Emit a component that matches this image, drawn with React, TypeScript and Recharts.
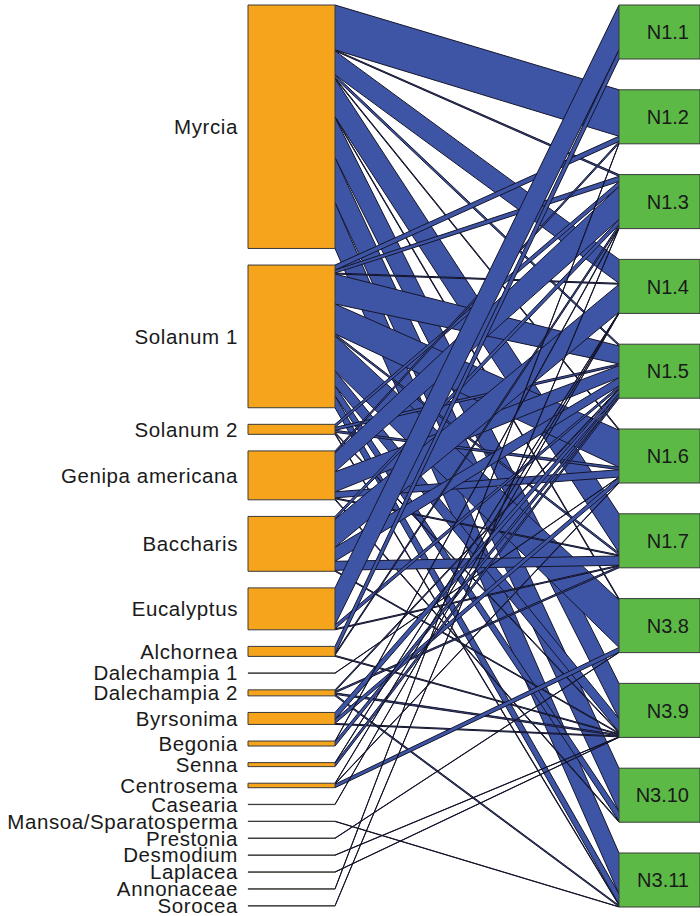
import React from 'react';
import { ComposedChart, Area, XAxis, YAxis, ReferenceArea } from 'recharts';

// Lower level (plants) and higher level (nests)
const plants = [
  'Myrcia', 'Solanum 1', 'Solanum 2', 'Genipa americana', 'Baccharis', 'Eucalyptus',
  'Alchornea', 'Dalechampia 1', 'Dalechampia 2', 'Byrsonima', 'Begonia', 'Senna',
  'Centrosema', 'Casearia', 'Mansoa/Sparatosperma', 'Prestonia', 'Desmodium',
  'Laplacea', 'Annonaceae', 'Sorocea',
];
const nests = ['N1.1', 'N1.2', 'N1.3', 'N1.4', 'N1.5', 'N1.6', 'N1.7', 'N3.8', 'N3.9', 'N3.10', 'N3.11'];

// Interactions: [plant, nest, amount]
const interactions: [string, string, number][] = [
  ['Myrcia', 'N1.2', 45], ['Myrcia', 'N1.3', 1], ['Myrcia', 'N1.4', 24], ['Myrcia', 'N1.5', 3],
  ['Myrcia', 'N1.6', 1], ['Myrcia', 'N1.7', 38], ['Myrcia', 'N3.8', 1], ['Myrcia', 'N3.9', 40],
  ['Myrcia', 'N3.10', 45], ['Myrcia', 'N3.11', 46],
  ['Solanum 1', 'N1.2', 5], ['Solanum 1', 'N1.3', 3], ['Solanum 1', 'N1.4', 1], ['Solanum 1', 'N1.5', 30],
  ['Solanum 1', 'N1.6', 30], ['Solanum 1', 'N1.7', 2], ['Solanum 1', 'N3.8', 35], ['Solanum 1', 'N3.9', 15],
  ['Solanum 1', 'N3.10', 10], ['Solanum 1', 'N3.11', 12],
  ['Solanum 2', 'N1.3', 3], ['Solanum 2', 'N1.5', 3], ['Solanum 2', 'N1.6', 2], ['Solanum 2', 'N3.9', 1],
  ['Solanum 2', 'N3.11', 1],
  ['Genipa americana', 'N1.2', 2], ['Genipa americana', 'N1.3', 19], ['Genipa americana', 'N1.5', 20],
  ['Genipa americana', 'N1.6', 6], ['Genipa americana', 'N1.7', 1], ['Genipa americana', 'N3.10', 1],
  ['Baccharis', 'N1.3', 3], ['Baccharis', 'N1.4', 28], ['Baccharis', 'N1.5', 14], ['Baccharis', 'N1.7', 9],
  ['Baccharis', 'N3.9', 1],
  ['Eucalyptus', 'N1.1', 37], ['Eucalyptus', 'N1.5', 4], ['Eucalyptus', 'N1.7', 1],
  ['Alchornea', 'N1.1', 7.5], ['Alchornea', 'N1.3', 1.5], ['Alchornea', 'N3.9', 1],
  ['Dalechampia 1', 'N1.6', 0.3],
  ['Dalechampia 2', 'N1.5', 1.5], ['Dalechampia 2', 'N1.7', 1.5], ['Dalechampia 2', 'N3.9', 1.5],
  ['Dalechampia 2', 'N3.11', 1.5],
  ['Byrsonima', 'N1.5', 7], ['Byrsonima', 'N1.6', 4], ['Byrsonima', 'N3.9', 1],
  ['Begonia', 'N1.3', 0.5], ['Begonia', 'N1.5', 4.5],
  ['Senna', 'N1.4', 0.5], ['Senna', 'N1.5', 3.5],
  ['Centrosema', 'N1.4', 0.5], ['Centrosema', 'N1.6', 0.5], ['Centrosema', 'N3.8', 3.5],
  ['Casearia', 'N1.4', 0.3],
  ['Mansoa/Sparatosperma', 'N3.11', 0.3],
  ['Prestonia', 'N3.8', 0.3],
  ['Desmodium', 'N3.9', 0.3],
  ['Laplacea', 'N3.9', 0.3],
  ['Annonaceae', 'N1.2', 0.3],
  ['Sorocea', 'N1.3', 0.3],
];

// ---- layout (plot units) ----
const W = 700;
const H = 916;
const AXIS_W = 248;
const LEFT_X0 = 0;
const LEFT_X1 = 87;
const RIGHT_X0 = 371;
const RIGHT_X1 = 452;
const TOP = 5;
const BOTTOM = 906;
const GAP = 16.6;
const BOX_H = 54;

const COLORS = {
  plant: '#F7A41D',
  nest: '#5CB946',
  link: '#3E55A6',
  edge: '#15152A',
  box: '#3a3a3a',
  text: '#1a1a1a',
};
const FONT = '"Liberation Sans", Arial, Helvetica, sans-serif';

const pIdx = new Map(plants.map((p, i) => [p, i]));
const nIdx = new Map(nests.map((n, i) => [n, i]));

const plantTotal = plants.map((p) => interactions.filter((r) => r[0] === p).reduce((s, r) => s + r[2], 0));
const nestTotal = nests.map((n) => interactions.filter((r) => r[1] === n).reduce((s, r) => s + r[2], 0));
const k = (BOTTOM - TOP - GAP * (plants.length - 1)) / plantTotal.reduce((a, b) => a + b, 0);

const plantTop: number[] = [];
{
  let y = TOP;
  plants.forEach((_, i) => {
    plantTop.push(y);
    y += plantTotal[i] * k + GAP;
  });
}
const plantCenter = plants.map((_, i) => plantTop[i] + (plantTotal[i] * k) / 2);
const nestTop = nests.map((_, j) => TOP + (j * (907 - TOP - BOX_H)) / (nests.length - 1));

// link end segments
const order = interactions.map((r, i) => ({ i, p: pIdx.get(r[0])!, n: nIdx.get(r[1])!, v: r[2] }));
const leftSeg: [number, number][] = [];
const rightSeg: [number, number][] = [];
{
  const byLeft = [...order].sort((a, b) => a.p - b.p || a.n - b.n);
  const cur = plantTop.slice();
  byLeft.forEach((l) => {
    const h = l.v * k;
    leftSeg[l.i] = [cur[l.p], cur[l.p] + h];
    cur[l.p] += h;
  });
  const byRight = [...order].sort((a, b) => a.n - b.n || a.p - b.p);
  const curR = nestTop.slice();
  byRight.forEach((l) => {
    const h = (l.v / nestTotal[l.n]) * BOX_H;
    rightSeg[l.i] = [curR[l.n], curR[l.n] + h];
    curR[l.n] += h;
  });
}

const chartData: Record<string, any>[] = [{ x: LEFT_X1 }, { x: RIGHT_X0 }];
interactions.forEach((_, i) => {
  chartData[0][`L${i}`] = leftSeg[i];
  chartData[1][`L${i}`] = rightSeg[i];
});

const tickMap = new Map(plantCenter.map((c, i) => [c, plants[i]]));

export default function App() {
  return (
    <div style={{ position: 'absolute', left: 0, top: 0, width: W, height: H, background: '#fff' }}>
      <ComposedChart width={W} height={H} data={chartData} margin={{ top: 0, right: 0, bottom: 0, left: 0 }}>
        <XAxis type="number" dataKey="x" domain={[0, RIGHT_X1]} allowDataOverflow hide />
        <YAxis
          type="number"
          domain={[0, H]}
          reversed
          allowDataOverflow
          width={AXIS_W}
          ticks={plantCenter}
          interval={0}
          axisLine={false}
          tickLine={false}
          tickSize={0}
          tickMargin={10}
          tickFormatter={(v: number) => tickMap.get(v) ?? ''}
          tick={{ fontSize: 20.5, fill: COLORS.text, fontFamily: FONT, letterSpacing: 0.6 }}
        />
        {interactions.map((_, i) => (
          <Area
            key={`L${i}`}
            dataKey={`L${i}`}
            type="linear"
            fill={COLORS.link}
            fillOpacity={1}
            stroke={COLORS.edge}
            strokeWidth={1}
            dot={false}
            activeDot={false}
            isAnimationActive={false}
          />
        ))}
        {plants.map((p, i) => (
          <ReferenceArea
            key={p}
            x1={LEFT_X0}
            x2={LEFT_X1}
            y1={plantTop[i]}
            y2={plantTop[i] + Math.max(plantTotal[i] * k, 0.3)}
            fill={COLORS.plant}
            fillOpacity={1}
            stroke={COLORS.box}
            strokeWidth={1}
            ifOverflow="visible"
          />
        ))}
        {nests.map((n, j) => (
          <ReferenceArea
            key={n}
            x1={RIGHT_X0}
            x2={RIGHT_X1}
            y1={nestTop[j]}
            y2={nestTop[j] + BOX_H}
            fill={COLORS.nest}
            fillOpacity={1}
            stroke={COLORS.box}
            strokeWidth={1}
            ifOverflow="visible"
            label={{ value: n, position: 'insideRight', offset: 11, fontSize: 20, fill: COLORS.text, fontFamily: FONT }}
          />
        ))}
      </ComposedChart>
    </div>
  );
}
